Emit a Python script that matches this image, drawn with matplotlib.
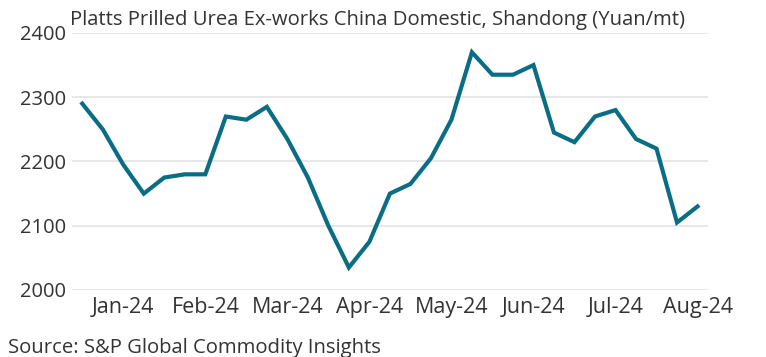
import matplotlib
matplotlib.use('Agg')
import matplotlib.pyplot as plt
import numpy as np

plt.rcParams['font.family'] = ['Open Sans', 'DejaVu Sans']

# weekly assessments, Yuan/mt
prices = [2290, 2250, 2195, 2150, 2175, 2180, 2180, 2270, 2265, 2285,
          2235, 2175, 2100, 2035, 2075, 2150, 2165, 2205, 2265, 2370,
          2335, 2335, 2350, 2245, 2230, 2270, 2280, 2235, 2220, 2105, 2130]
month_labels = ['Jan-24', 'Feb-24', 'Mar-24', 'Apr-24', 'May-24', 'Jun-24', 'Jul-24', 'Aug-24']
month_idx = [2, 6, 10, 14, 18, 22, 26, 30]
y_ticks = [2000, 2100, 2200, 2300, 2400]

line_color = '#0a6d86'
text_color = '#333333'

fig = plt.figure(figsize=(7.66, 3.57), dpi=100)
ax = fig.add_axes([0.094, 0.1877, 0.83, 0.72])

x = np.arange(len(prices))
ax.plot(x, prices, color=line_color, linewidth=3.0, solid_joinstyle='miter', zorder=3)

ax.set_xlim(-0.5, 30.5)
ax.set_ylim(2000, 2400)
ax.set_yticks(y_ticks)
ax.set_xticks(month_idx)
ax.set_xticklabels(month_labels)
ax.grid(axis='y', color='#e3e3e3', linewidth=1.2)
ax.set_axisbelow(True)
for s in ax.spines.values():
    s.set_visible(False)
ax.tick_params(axis='y', length=0, labelsize=14.5, colors=text_color, pad=4)
ax.tick_params(axis='x', length=0, labelsize=15.5, colors=text_color, pad=5)

fig.text(0.091, 0.93, 'Platts Prilled Urea Ex-works China Domestic, Shandong (Yuan/mt)',
         fontsize=14.6, color=text_color, ha='left', va='baseline')
fig.text(0.01, 0.012, 'Source: S&P Global Commodity Insights',
         fontsize=14.6, color=text_color, ha='left', va='baseline')

fig.savefig('out.png', dpi=100)
